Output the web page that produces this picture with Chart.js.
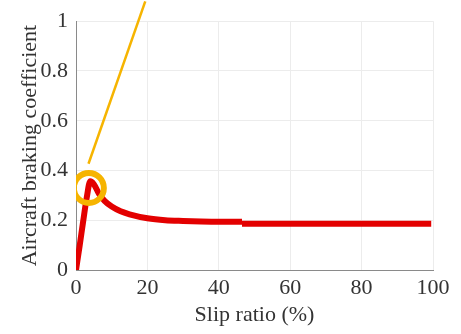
<!DOCTYPE html>
<html>
<head>
<meta charset="utf-8">
<script src="https://cdn.jsdelivr.net/npm/chart.js@4"></script>
<style>
  html, body { margin: 0; padding: 0; background: #fff; }
  #wrap { width: 461px; height: 334px; }
</style>
</head>
<body>
<div id="wrap"><canvas id="myChart"></canvas></div>
<script>
// braking curve
const slipCurve = [0, 1, 2, 3, 4, 5, 6.5, 8, 10, 12.5, 15, 20, 25, 30, 35, 40, 46.5];
const brakeCurve = [0, 0.095, 0.195, 0.29, 0.357, 0.345, 0.305, 0.278, 0.255, 0.236, 0.224, 0.208, 0.2, 0.197, 0.195, 0.194, 0.194];
const slipTail = [46.5, 99.5];
const brakeTail = [0.186, 0.186];
// tangent line and marker
const slipTangent = [3.5, 19.4];
const brakeTangent = [0.427, 1.08];
const peakMark = [{ x: 3.6, y: 0.33 }];

const xTicks = [0, 20, 40, 60, 80, 100];
const yTicks = [0, 0.2, 0.4, 0.6, 0.8, 1];

const pts = (xs, ys) => xs.map((x, i) => ({ x: x, y: ys[i] }));

const ctx = document.getElementById("myChart");
const family = "'Liberation Serif', 'DejaVu Serif', serif";
const tickFont = { family: family, size: 22 };
const titleFont = { family: family, size: 22 };

new Chart(ctx, {
  type: "scatter",
  data: {
    datasets: [
      {
        data: peakMark,
        borderColor: "#F6B400",
        backgroundColor: "rgba(0,0,0,0)",
        pointRadius: 15,
        pointBorderWidth: 6,
        showLine: false,
        order: 0,
      },
      {
        data: pts(slipTangent, brakeTangent),
        borderColor: "#F6B400",
        borderWidth: 2.5,
        pointRadius: 0,
        showLine: true,
        clip: false,
        order: 1,
      },
      {
        data: pts(slipCurve, brakeCurve),
        borderColor: "#E30000",
        borderWidth: 6,
        pointRadius: 0,
        showLine: true,
        cubicInterpolationMode: "monotone",
        order: 2,
      },
      {
        data: pts(slipTail, brakeTail),
        borderColor: "#E30000",
        borderWidth: 6,
        pointRadius: 0,
        showLine: true,
        order: 3,
      },
    ],
  },
  options: {
    responsive: true,
    maintainAspectRatio: false,
    animation: false,
    layout: { padding: { top: 21, right: 28, left: 0, bottom: 0 } },
    plugins: {
      legend: { display: false },
      tooltip: { enabled: false },
    },
    scales: {
      x: {
        type: "linear",
        min: 0,
        max: 100,
        afterBuildTicks: (s) => { s.ticks = xTicks.map((v) => ({ value: v })); },
        afterFit: (s) => { s.height = 64; },
        grid: { color: "#ececec", tickLength: 0 },
        border: { color: "#8a8a8a", width: 1 },
        ticks: { color: "#333", font: tickFont, padding: 5, maxRotation: 0, callback: (v) => String(v) },
        title: {
          display: true,
          text: "Slip ratio (%)",
          color: "#333",
          font: titleFont,
          padding: { top: 0, bottom: 6 },
        },
      },
      y: {
        type: "linear",
        min: 0,
        max: 1,
        afterBuildTicks: (s) => { s.ticks = yTicks.map((v) => ({ value: v })); },
        afterFit: (s) => { s.width = 76; },
        grid: { color: "#ececec", tickLength: 0 },
        border: { color: "#8a8a8a", width: 1 },
        ticks: { color: "#333", font: tickFont, padding: 8, callback: (v) => String(v) },
        title: {
          display: true,
          text: "Aircraft braking coefficient",
          color: "#333",
          font: titleFont,
          padding: { top: 17, bottom: 0 },
        },
      },
    },
  },
});
</script>
</body>
</html>
